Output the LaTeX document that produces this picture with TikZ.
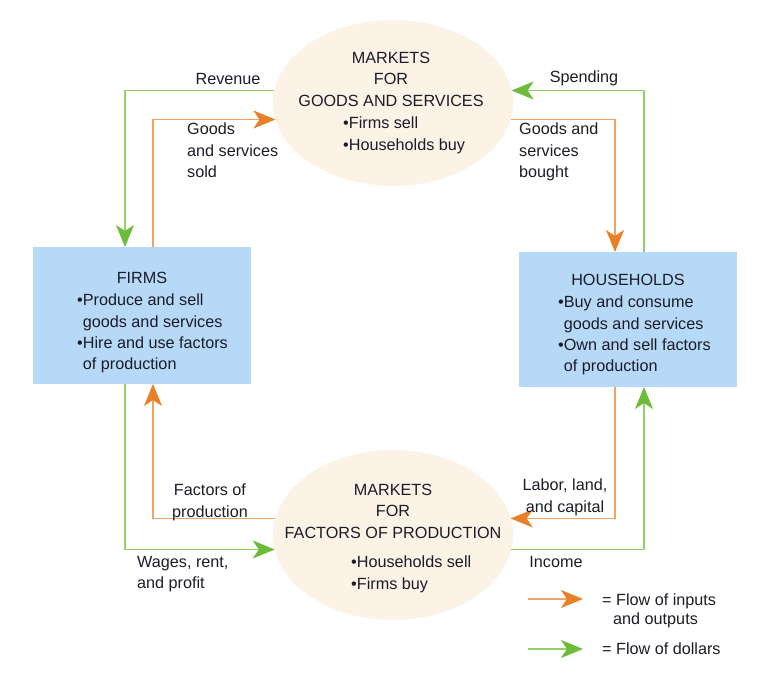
\documentclass[tikz,border=0pt]{standalone}
\usepackage{fontspec}
\setmainfont{Liberation Sans}
\usetikzlibrary{arrows.meta,shapes.geometric}

\definecolor{boxblue}{RGB}{182,217,247}
\definecolor{marketcream}{RGB}{252,242,230}
\definecolor{goodsline}{RGB}{240,163,104}
\definecolor{goodshead}{RGB}{232,128,40}
\definecolor{moneyline}{RGB}{146,208,106}
\definecolor{moneyhead}{RGB}{108,188,58}
\definecolor{inktext}{RGB}{28,28,40}

\tikzset{
  sector/.style={rectangle, fill=boxblue, minimum width=218pt, inner sep=0pt, outer sep=0pt},
  market/.style={ellipse, fill=marketcream, minimum width=240pt, inner sep=0pt, outer sep=0pt},
  goodsflow/.style={goodsline, line width=1.3pt, -{Stealth[length=22pt,width=18pt,inset=6pt,color=goodshead]}},
  moneyflow/.style={moneyline, line width=1.3pt, -{Stealth[length=22pt,width=18pt,inset=6pt,color=moneyhead]}},
  words/.style={inner sep=0pt, text=inktext, font=\fontsize{16.2}{21.3}\selectfont},
}

\begin{document}
\begin{tikzpicture}[x=1pt,y=1pt]
        \useasboundingbox (0,0) rectangle (760,672);

        % Markets and sectors.
        \node[market, minimum height=166pt] (gsmkt) at (393,569) {};
        \node[market, minimum height=170pt] (fpmkt) at (393,137) {};
        \node[sector, minimum height=137pt] (firms) at (142,356.5) {};
        \node[sector, minimum height=135pt] (hh) at (628,352.5) {};

        % Texts in them.
        \node[words, align=center, anchor=north] (gsmkt-head) at (391,620) {MARKETS\\FOR\\GOODS AND SERVICES};
        \node[words, align=left, anchor=north west] (gsmkt-list) at (343,555) {•Firms sell\\•Households buy};
        \node[words, align=center, anchor=north] (fpmkt-head) at (393,188) {MARKETS\\FOR\\FACTORS OF PRODUCTION};
        \node[words, align=left, anchor=north west] (fpmkt-list) at (351,116) {•Households sell\\•Firms buy};
        \node[words, anchor=north] (firms-head) at (142,400) {FIRMS};
        \node[words, align=left, anchor=north west] (firms-list) at (77,378)
            {•Produce and sell\\\phantom{•}goods and services\\•Hire and use factors\\\phantom{•}of production};
        \node[words, anchor=north] (hh-head) at (628,398) {HOUSEHOLDS};
        \node[words, align=left, anchor=north west] (hh-list) at (558,376)
            {•Buy and consume\\\phantom{•}goods and services\\•Own and sell factors\\\phantom{•}of production};

        % Flows round the top market.
        \draw[moneyflow] (gsmkt.174) -| ([xshift=-17pt]firms.north);
        \draw[goodsflow] ([xshift=11pt]firms.north) |- (gsmkt.188);
        \draw[moneyflow] ([xshift=16pt]hh.north) |- (gsmkt.6);
        \draw[goodsflow] (gsmkt.352) -| ([xshift=-13pt]hh.north);

        % Flows round the bottom market.
        \draw[goodsflow] ([xshift=-13pt]hh.south) |- (fpmkt.8);
        \draw[moneyflow] (fpmkt.353) -| ([xshift=16pt]hh.south);
        \draw[goodsflow] (fpmkt.172) -| ([xshift=11pt]firms.south);
        \draw[moneyflow] ([xshift=-17pt]firms.south) |- (fpmkt.187);

        % Flow labels.
        \node[words] (revenue) at (228,593) {Revenue};
        \node[words, align=left, anchor=north west] (sold) at (187,549) {Goods\\and services\\sold};
        \node[words] (spending) at (584,594) {Spending};
        \node[words, align=left, anchor=north west] (bought) at (519,549) {Goods and\\services\\bought};
        \node[words, align=center, anchor=north] (labor) at (565,193) {Labor, land,\\and capital};
        \node[words] (income) at (556,110) {Income};
        \node[words, align=center, anchor=north] (factors) at (210,188) {Factors of\\production};
        \node[words, align=left, anchor=north west] (wages) at (137,116) {Wages, rent,\\and profit};

        % Legend.
        \coordinate (key1a) at (528,73);
        \coordinate (key1b) at (583,73);
        \coordinate (key2a) at (528,23);
        \coordinate (key2b) at (583,23);
        \draw[goodsflow] (key1a) -- (key1b);
        \draw[moneyflow] (key2a) -- (key2b);
        \node[words, align=left, anchor=north west] (key1) at (602,78) {= Flow of inputs\\[-2.5pt]\hspace*{11pt}and outputs};
        \node[words, anchor=north west] (key2) at (602,29) {= Flow of dollars};

    \end{tikzpicture}
\end{document}
